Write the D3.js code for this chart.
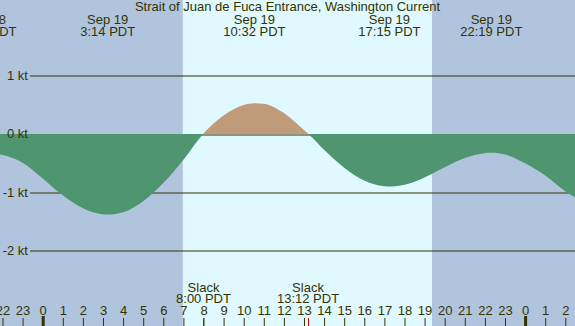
<!DOCTYPE html>
<html>
<head>
<meta charset="utf-8">
<script src="https://cdnjs.cloudflare.com/ajax/libs/d3/7.8.5/d3.min.js"></script>
<style>
  body { margin: 0; padding: 0; background: #fff; }
  svg { display: block; }
  text { font-family: "Liberation Sans", Arial, sans-serif; font-size: 13px; fill: #333300; }
</style>
</head>
<body>
<svg width="575" height="326"></svg>
<script>
// hours from midnight Sep 19 (PDT), current speed in knots (+ flood, - ebb)
var hours = [-3, -2.85, -2, -1, 0, 1, 2, 3, 3.233, 4, 5, 6, 7, 8, 9, 10, 10.533, 11, 12, 13, 13.2,
             14, 15, 16, 17, 17.25, 18, 19, 20, 21, 22, 22.317, 23, 24, 25, 26, 27];
var knots = [-0.34, -0.33, -0.37, -0.50, -0.77, -1.06, -1.28, -1.385, -1.39, -1.35, -1.16, -0.85, -0.45, 0, 0.31, 0.49, 0.52, 0.51, 0.35, 0.06, 0,
             -0.28, -0.585, -0.805, -0.905, -0.91, -0.88, -0.755, -0.58, -0.42, -0.336, -0.33, -0.36, -0.51, -0.72, -0.99, -1.2];

// max / min current events shown along the top
var eventHours = [-2.85, 3.233, 10.533, 17.25, 22.317];
var eventDates = ["Sep 18", "Sep 19", "Sep 19", "Sep 19", "Sep 19"];
var eventTimes = ["21:09 PDT", "3:14 PDT", "10:32 PDT", "17:15 PDT", "22:19 PDT"];

// slack water
var slackHours = [8.0, 13.2];
var slackTimes = ["8:00 PDT", "13:12 PDT"];

var sunrise = 6.97, sunset = 19.37;
var yTicks = [1, 0, -1, -2];
var hourTicks = d3.range(-2, 27);
var title = "Strait of Juan de Fuca Entrance, Washington Current";

var svg = d3.select("svg"),
    width = +svg.attr("width"),
    height = +svg.attr("height");

var x = d3.scaleLinear().domain([-2.124, 26.483]).range([0, width]);
var y = d3.scaleLinear().domain([1, -2]).range([75.2, 250.2]);

// night / day background
svg.append("rect").attr("width", width).attr("height", height).attr("fill", "#b0c4de");
svg.append("rect")
    .attr("x", x(sunrise)).attr("width", x(sunset) - x(sunrise))
    .attr("y", 0).attr("height", height)
    .attr("fill", "#e0f8ff");

// kt grid (under the fill)
var grid = svg.append("g")
    .attr("transform", "translate(30,0)")
    .call(d3.axisLeft(y).tickValues(yTicks).tickSize(-(width - 30)).tickFormat(""));
grid.select(".domain").remove();
grid.selectAll("line").attr("stroke", "#333300")
    .attr("transform", function(d) { return "translate(0," + (Math.round(y(d)) + 0.5 - y(d)) + ")"; });

// current curve, split into flood (above 0) and ebb (below 0)
var pts = hours.map(function(h, i) { return [h, knots[i]]; });
var y0 = Math.round(y(0));

var area = d3.area()
    .x(function(d) { return x(d[0]); })
    .y0(y0)
    .y1(function(d) { return y(d[1]); })
    .curve(d3.curveMonotoneX);

var defs = svg.append("defs");
defs.append("clipPath").attr("id", "above")
    .append("rect").attr("x", 0).attr("y", 0).attr("width", width).attr("height", y0);
defs.append("clipPath").attr("id", "below")
    .append("rect").attr("x", 0).attr("y", y0).attr("width", width).attr("height", height - y0);

svg.append("path").datum(pts)
    .attr("d", area)
    .attr("fill", "#bf9b7a")
    .attr("clip-path", "url(#above)");
svg.append("path").datum(pts)
    .attr("d", area)
    .attr("fill", "#4f9670")
    .attr("clip-path", "url(#below)");

// kt labels (over the fill)
var yAxis = svg.append("g")
    .attr("transform", "translate(30,0)")
    .call(d3.axisLeft(y).tickValues(yTicks).tickSize(0).tickPadding(2)
        .tickFormat(function(d) { return d + " kt"; }));
yAxis.select(".domain").remove();
yAxis.selectAll("line").remove();
yAxis.selectAll("text").attr("fill", "#333300").attr("font-size", 13)
    .attr("font-family", "Liberation Sans, Arial, sans-serif");

// title
svg.append("text")
    .attr("x", width / 2).attr("y", 11)
    .attr("text-anchor", "middle")
    .text(title);

// event labels
var ev = svg.selectAll(".event")
    .data(eventHours)
    .enter().append("g")
        .attr("class", "event")
        .attr("transform", function(d) { return "translate(" + x(d) + ",0)"; });
ev.append("text").attr("y", 24).attr("text-anchor", "middle")
    .text(function(d, i) { return eventDates[i]; });
ev.append("text").attr("y", 36).attr("text-anchor", "middle")
    .text(function(d, i) { return eventTimes[i]; });

// slack labels
var sl = svg.selectAll(".slack")
    .data(slackHours)
    .enter().append("g")
        .attr("class", "slack")
        .attr("transform", function(d) { return "translate(" + x(d) + ",0)"; });
sl.append("text").attr("y", 292).attr("text-anchor", "middle").text("Slack");
sl.append("text").attr("y", 303).attr("text-anchor", "middle")
    .text(function(d, i) { return slackTimes[i]; });

// hour axis along the bottom
var xAxis = svg.append("g")
    .attr("transform", "translate(0," + height + ")")
    .call(d3.axisTop(x).tickValues(hourTicks).tickSize(8).tickPadding(3)
        .tickFormat(function(d) { return ((d % 24) + 24) % 24; }));
xAxis.select(".domain").remove();
xAxis.selectAll("line").attr("stroke", "#333300");
xAxis.selectAll("text").attr("fill", "#333300").attr("font-size", 13)
    .attr("font-family", "Liberation Sans, Arial, sans-serif");
xAxis.selectAll(".tick")
    .filter(function(d) { return d % 24 === 0; })
    .select("line")
        .attr("stroke-width", 3)
        .attr("y2", -10);

// slack ticks
svg.selectAll(".slacktick")
    .data(slackHours)
    .enter().append("line")
        .attr("class", "slacktick")
        .attr("x1", function(d) { return Math.round(x(d)) + 0.5; })
        .attr("x2", function(d) { return Math.round(x(d)) + 0.5; })
        .attr("y1", height - 8)
        .attr("y2", height)
        .attr("stroke", "#e00000");
</script>
</body>
</html>
